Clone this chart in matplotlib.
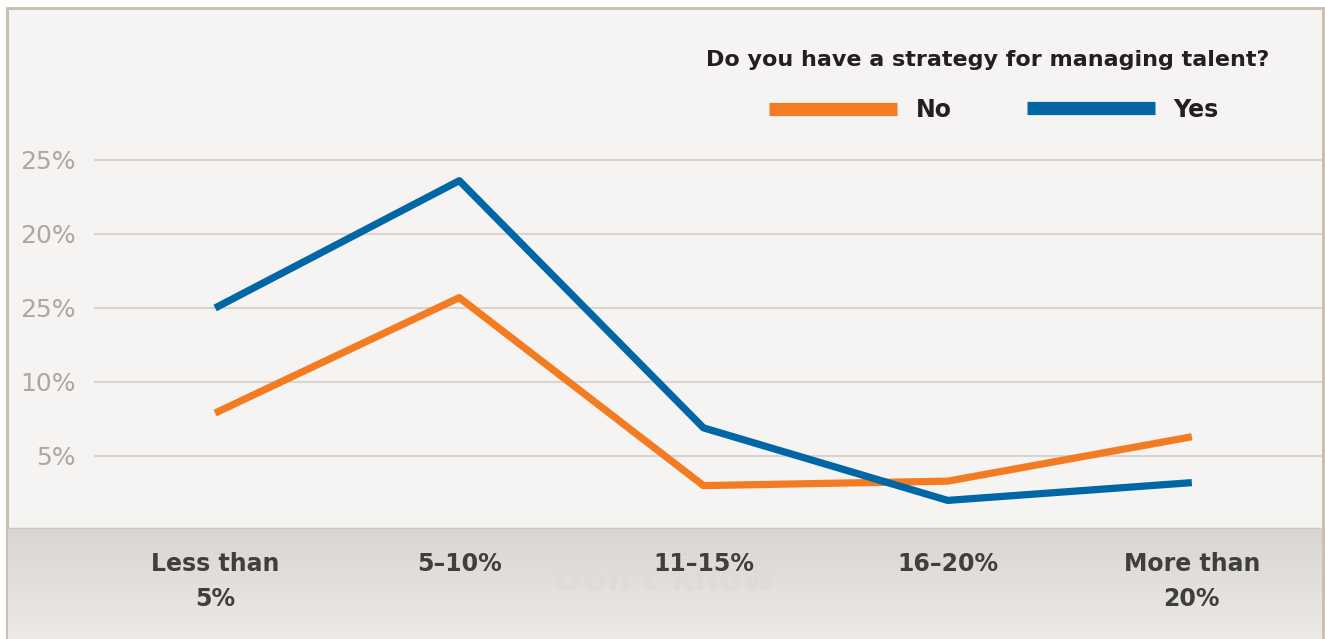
import numpy as np
import matplotlib
matplotlib.use('Agg')
import matplotlib.pyplot as plt
from matplotlib.patches import Rectangle

categories = ['Less than\n5%', '5\u201310%', '11\u201315%', '16\u201320%', 'More than\n20%']
no_vals = [7.9, 15.7, 3.0, 3.3, 6.3]
yes_vals = [15.0, 23.6, 6.9, 2.0, 3.2]
ytick_vals = [5, 10, 15, 20, 25]
ytick_labels = ['5%', '10%', '25%', '20%', '25%']   # as printed in the original
legend_title = 'Do you have a strategy for managing talent?'

ORANGE = '#f37b22'
BLUE = '#0066a5'
W, H = 1325, 639

fig = plt.figure(figsize=(W / 100, H / 100), dpi=100)
fig.patch.set_facecolor('white')

# background panel, frame and grey band along the bottom
bg = fig.add_axes([0, 0, 1, 1])
bg.set_xlim(0, W); bg.set_ylim(H, 0); bg.axis('off')
bg.add_patch(Rectangle((7, 8), 1316, H, facecolor='#f5f4f2', edgecolor='#c8bfb5', lw=2.2))
grad = np.linspace(0, 1, 100).reshape(-1, 1)
c0 = np.array([0.851, 0.839, 0.824]); c1 = np.array([0.929, 0.918, 0.902])
img = c0 + (c1 - c0) * grad[..., None]
bg.imshow(img, extent=(8, 1322, 639, 528), aspect='auto', interpolation='bilinear', zorder=2)
bg.plot([8, 1322], [528, 528], color='#cfc9c2', lw=1, zorder=3)
# faint watermark left in the original artwork
bg.text(664, 580, "Don't know", ha='center', va='center', fontsize=25, fontweight='bold',
        color='#dfdcd8', zorder=3)

# main chart
ax = fig.add_axes([94 / W, 1 - 528 / H, (1322 - 94) / W, (528 - 9) / H])
ax.set_facecolor('none')
x = np.arange(len(categories))
ax.set_xlim(-0.496, 4.533)
ax.set_ylim(0.135, 35.2)

for y in ytick_vals:
    ax.axhline(y, color='#d9d4cf', lw=1.5, zorder=1)

ax.plot(x, no_vals, color=ORANGE, lw=5.2, solid_capstyle='butt', zorder=3)
ax.plot(x, yes_vals, color=BLUE, lw=5.2, solid_capstyle='butt', zorder=4)

ax.set_yticks(ytick_vals)
ax.set_yticklabels(ytick_labels, fontsize=18, color='#b0a69b')
ax.tick_params(axis='y', length=0, pad=13)
ax.set_xticks(x)
ax.set_xticklabels(categories, fontsize=17, fontweight='bold', color='#3f3f3f',
                   linespacing=1.6)
ax.tick_params(axis='x', length=0, pad=17)
for t in ax.get_xticklabels():
    t.set_multialignment('center')
    t.set_zorder(5)
for s in ax.spines.values():
    s.set_visible(False)

# legend drawn by hand, like the original header
fig.text(988 / W, 1 - 60 / H, legend_title, ha='center', va='center', fontsize=16,
         fontweight='bold', color='#231f20')
bg.plot([769, 897], [109, 109], color=ORANGE, lw=9.5, solid_capstyle='butt')
bg.plot([1027, 1155], [108, 108], color=BLUE, lw=9.5, solid_capstyle='butt')
bg.text(934, 110, 'No', ha='center', va='center', fontsize=17, fontweight='bold', color='#231f20')
bg.text(1196, 110, 'Yes', ha='center', va='center', fontsize=17, fontweight='bold', color='#231f20')

fig.savefig('out.png', dpi=100, facecolor=fig.get_facecolor())
